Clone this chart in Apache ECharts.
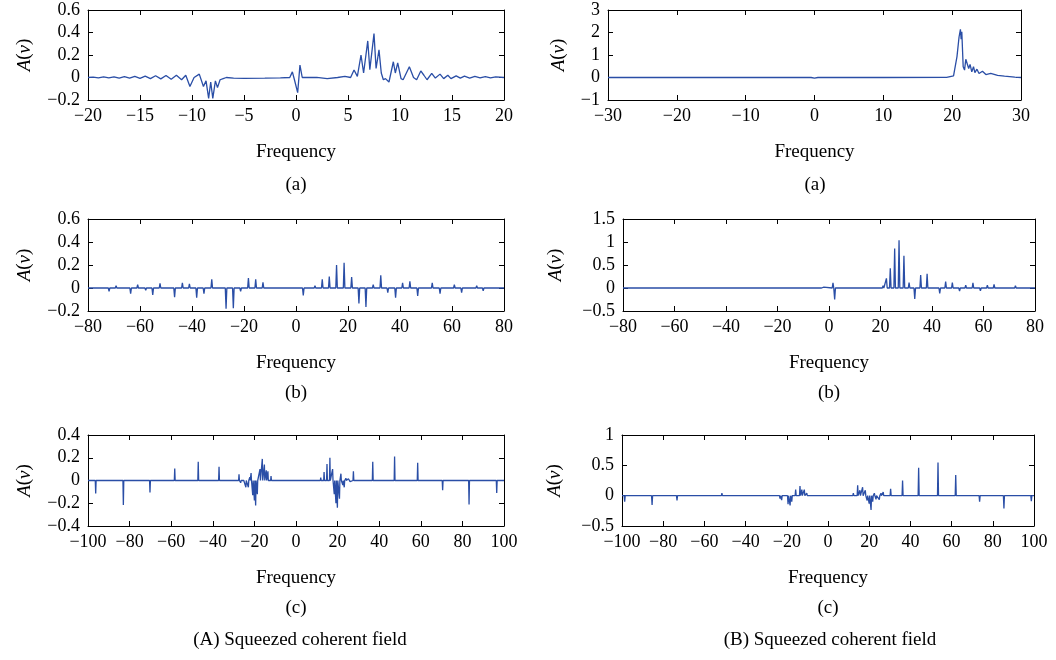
<!DOCTYPE html>
<html>
<head>
<meta charset="utf-8">
<script src="https://cdn.jsdelivr.net/npm/echarts/dist/echarts.min.js"></script>
<style>html,body{margin:0;padding:0;background:#fff}#main{width:1056px;height:660px}</style>
</head>
<body>
<div id="main"></div>
<script>
var myChart = echarts.init(document.getElementById('main'));

// (A)(a) traced points [frequency, A(v)]
var pointsAa = [[-20,0],[-19.5,0.003],[-19,-0.003],[-18.5,0.005],[-18,-0.004],[-17.5,0.006],[-17,-0.005],
  [-16.5,0.008],[-16,-0.006],[-15.5,0.01],[-15,-0.008],[-14.5,0.012],[-14,-0.01],[-13.5,0.016],[-13,-0.012],
  [-12.5,0.018],[-12,-0.016],[-11.5,0.02],[-11,-0.02],[-10.6,0.02],[-10.2,-0.08],[-9.8,0],[-9.3,0.03],
  [-8.9,-0.08],[-8.65,-0.03],[-8.4,-0.185],[-8.2,-0.04],[-8.0,-0.185],[-7.75,-0.03],[-7.55,-0.09],[-7.3,-0.02],
  [-7.0,-0.01],[-6.7,0],[-6.0,-0.005],[-5,-0.007],[-3,-0.005],[-1.5,-0.003],[-0.6,0],[-0.35,0.05],[-0.15,-0.02],
  [0.16,-0.135],[0.38,0.11],[0.6,0],[1,0],[2,0.002],[3,-0.01],[4,0],[4.7,0.01],[5.25,0],[5.58,0.067],[5.9,0.01],
  [6.25,0.2],[6.5,0.04],[6.9,0.325],[7.1,0.07],[7.5,0.39],[7.7,0.08],[7.98,0.245],[8.2,0.04],[8.4,-0.02],
  [8.6,-0.01],[8.94,-0.04],[9.36,0.14],[9.55,0.04],[9.78,0.13],[10.1,-0.01],[10.3,-0.02],[10.9,0.096],[11.3,0],
  [11.6,-0.02],[12.0,0.058],[12.3,0.02],[12.6,-0.02],[13.05,0.037],[13.4,-0.005],[13.85,0.03],[14.2,-0.01],
  [14.6,0.02],[14.9,-0.01],[15.4,0.015],[15.8,-0.005],[16.2,0.012],[16.7,-0.005],[17.2,0.01],[17.7,-0.004],
  [18.2,0.008],[18.7,-0.004],[19.2,0.005],[20,0]];

// (B)(a) traced points
var pointsBa = [[-30,0],[-10,0],[-0.5,0],[0,-0.03],[0.5,0],[10,0],[19.2,0.01],[20.2,0.07],[20.7,0.93],[21.0,1.8],
  [21.2,2.14],[21.3,1.7],[21.4,2.03],[21.6,0.48],[21.8,0.33],[21.98,0.81],[22.15,0.75],[22.4,0.4],[22.6,0.58],
  [22.85,0.25],[23.1,0.48],[23.3,0.22],[23.6,0.37],[23.9,0.18],[24.4,0.28],[24.9,0.13],[25.6,0.18],[26.6,0.09],
  [27.6,0.06],[29.1,0.02],[30,0]];

// spikes [frequency, peak A(v)] on a zero baseline
var spikesAb = [[-71.9,-0.03],[-69.2,0.02],[-63.6,-0.05],[-60.9,0.03],[-57.8,-0.02],[-55.1,-0.06],[-52.3,0.04],
  [-46.7,-0.08],[-43.7,0.045],[-41.0,0.035],[-38.2,-0.085],[-35.4,-0.05],[-32.4,0.075],[-26.9,-0.18],[-24.1,-0.175],
  [-21.3,-0.03],[-18.3,0.087],[-15.5,0.075],[-12.7,0.05],[-10.0,0.01],[-3.1,0.01],[2.8,-0.065],[7.3,0.02],
  [10.1,0.075],[12.8,0.1],[15.6,0.2],[18.5,0.22],[21.4,0.095],[24.2,-0.135],[26.9,-0.165],[29.7,0.03],[32.6,0.11],
  [35.3,-0.04],[38.3,-0.085],[41.0,0.045],[43.8,0.058],[46.8,-0.07],[52.4,0.045],[55.4,-0.05],[60.9,0.03],
  [63.7,-0.04],[69.5,0.02],[72.0,-0.025],[77.8,0.015]];

var spikesBb = [[-62,-0.01],[-55,-0.01],[-43.1,-0.02],[-40.5,-0.01],[-33.4,-0.03],[-31.5,-0.04],[-29,-0.01],
  [-2.6,-0.03],[-2.0,0.02],[1.55,0.11],[2.2,-0.25],[21.0,0.05],[22.3,0.21],[23.8,0.43],[25.5,0.86],[27.2,1.04],
  [29.1,0.7],[31.1,0.12],[33.3,-0.24],[35.6,0.28],[38.1,0.31],[43.0,-0.12],[45.3,0.14],[47.9,0.12],[50.7,-0.07],
  [53.1,0.06],[55.9,0.11],[58.8,-0.06],[61.5,0.06],[64.1,0.08],[67.0,-0.04],[69.5,0.04],[72.4,0.05],[75.0,-0.03],
  [77.6,0.03]];

var spikesAc = [[-96.3,-0.115],[-83.0,-0.215],[-70.2,-0.105],[-58.3,0.105],[-47.0,0.165],[-37.0,0.12],[-27.4,0.055],
  [-26.6,-0.02],[-24.9,0.015],[-24.1,-0.06],[-22.9,-0.06],[-22.2,0.03],[-21.6,0.065],[-20.8,-0.13],[-20.0,-0.175],
  [-19.4,-0.22],[-18.6,-0.12],[-18.1,0.015],[-17.3,0.1],[-16.2,0.19],[-15.2,0.14],[-14.3,0.09],[-13.5,0.08],
  [-12.0,0.04],[-10.1,0.01],[11.9,0.025],[13.5,0.075],[14.9,0.145],[16.3,0.2],[17.6,0.1],[18.4,-0.12],[19.2,-0.2],
  [19.9,-0.24],[20.9,-0.16],[21.6,0.06],[22.5,-0.04],[23.2,-0.06],[24.0,0.02],[25.2,0.015],[26.0,-0.01],
  [27.6,0.08],[29.2,-0.01],[36.9,0.165],[47.4,0.21],[58.5,0.155],[70.5,-0.085],[83.2,-0.21],[96.5,-0.11]];

var spikesBc = [[-98.7,-0.1],[-85.4,-0.155],[-73.3,-0.08],[-61.8,0.02],[-51.5,0.04],[-41.6,0.025],[-23.3,-0.05],
  [-22.5,-0.075],[-20.9,0.03],[-19.4,-0.14],[-18.4,-0.16],[-17.6,-0.1],[-15.7,0.1],[-13.6,0.16],[-12.7,0.1],
  [-11.5,0.1],[-10.3,0.04],[-6.3,0.02],[12.3,0.04],[14.4,0.17],[15.5,0.09],[16.8,0.14],[18.1,0.09],[19.0,-0.08],
  [20.0,-0.13],[20.9,-0.235],[21.7,-0.1],[22.5,0.04],[23.3,-0.06],[24.1,0.03],[24.9,-0.065],[25.7,0.04],
  [26.8,0.06],[28.0,-0.02],[30.4,0.115],[36.2,0.25],[44.0,0.46],[53.4,0.545],[62.0,0.34],[73.6,-0.1],
  [85.4,-0.21],[98.7,-0.09]];

// axis ranges [min, max, interval]
var xRangeAa = [-20, 20, 5], yRangeAa = [-0.2, 0.6, 0.2];
var xRangeBa = [-30, 30, 10], yRangeBa = [-1, 3, 1];
var xRangeAb = [-80, 80, 20], yRangeAb = [-0.2, 0.6, 0.2];
var xRangeBb = [-80, 80, 20], yRangeBb = [-0.5, 1.5, 0.5];
var xRangeAc = [-100, 100, 20], yRangeAc = [-0.4, 0.4, 0.2];
var xRangeBc = [-100, 100, 20], yRangeBc = [-0.5, 1, 0.5];

function spikeLine(spikes, range, hw) {
  var out = [[range[0], 0]];
  spikes.forEach(function (s) {
    out.push([s[0] - hw, 0], [s[0], s[1]], [s[0] + hw, 0]);
  });
  out.push([range[1], 0]);
  return out;
}

var font = 'Liberation Serif';
var blue = '#2a4ea6';

var panels = [
  {box: [88, 10, 416, 90], xr: xRangeAa, yr: yRangeAa, data: pointsAa, gap: 54},
  {box: [608, 10, 413, 90], xr: xRangeBa, yr: yRangeBa, data: pointsBa, gap: 40},
  {box: [88, 219, 416, 92], xr: xRangeAb, yr: yRangeAb, data: spikeLine(spikesAb, xRangeAb, 0.3), gap: 54},
  {box: [623, 219, 412, 92], xr: xRangeBb, yr: yRangeBb, data: spikeLine(spikesBb, xRangeBb, 0.3), gap: 58},
  {box: [88, 435, 416, 91], xr: xRangeAc, yr: yRangeAc, data: spikeLine(spikesAc, xRangeAc, 0.2), gap: 54},
  {box: [622, 435, 412, 91], xr: xRangeBc, yr: yRangeBc, data: spikeLine(spikesBc, xRangeBc, 0.25), gap: 58}
];

function fmt(v) {
  return String(Math.round(v * 10) / 10).replace('-', '\u2212');
}

var grids = [], xAxes = [], yAxes = [], series = [];
var lineStyle = {color: '#000', width: 1};
panels.forEach(function (p, i) {
  grids.push({left: p.box[0], top: p.box[1], width: p.box[2], height: p.box[3]});
  var common = {type: 'value', gridIndex: i, splitLine: {show: false},
    axisLine: {onZero: false, lineStyle: lineStyle},
    axisTick: {inside: true, length: 5, lineStyle: lineStyle}};
  xAxes.push(Object.assign({}, common, {
    position: 'bottom', min: p.xr[0], max: p.xr[1], interval: p.xr[2],
    name: 'Frequency', nameLocation: 'middle', nameGap: 43,
    nameTextStyle: {fontFamily: font, fontSize: 19, color: '#000'},
    axisLabel: {fontFamily: font, fontSize: 18, color: '#000', margin: 7, formatter: fmt}
  }));
  xAxes.push(Object.assign({}, common, {
    position: 'top', min: p.xr[0], max: p.xr[1], interval: p.xr[2], axisLabel: {show: false}
  }));
  yAxes.push(Object.assign({}, common, {
    position: 'left', min: p.yr[0], max: p.yr[1], interval: p.yr[2],
    name: '{i|A}({i|\u03bd})', nameLocation: 'middle', nameGap: p.gap, nameRotate: 90,
    nameTextStyle: {fontFamily: font, fontSize: 19, color: '#000',
      rich: {i: {fontFamily: font, fontSize: 19, fontStyle: 'italic', color: '#000'}}},
    axisLabel: {fontFamily: font, fontSize: 18, color: '#000', margin: 8, formatter: fmt}
  }));
  yAxes.push(Object.assign({}, common, {
    position: 'right', min: p.yr[0], max: p.yr[1], interval: p.yr[2], axisLabel: {show: false}
  }));
  series.push({
    type: 'line', xAxisIndex: i * 2, yAxisIndex: i * 2, data: p.data,
    showSymbol: false, symbol: 'none', animation: false,
    lineStyle: {color: blue, width: 1.3}
  });
});

function caption(text, x, y) {
  return {type: 'text', x: x, y: y, style: {text: text, fontFamily: font, fontSize: 19, fill: '#000',
    align: 'center', verticalAlign: 'middle'}};
}

var option = {
  backgroundColor: '#fff',
  animation: false,
  grid: grids,
  xAxis: xAxes,
  yAxis: yAxes,
  series: series,
  graphic: [
    caption('(a)', 296, 185), caption('(a)', 815, 185),
    caption('(b)', 296, 393), caption('(b)', 829, 393),
    caption('(c)', 296, 608), caption('(c)', 828, 608),
    caption('(A) Squeezed coherent field', 300, 640),
    caption('(B) Squeezed coherent field', 830, 640)
  ]
};
myChart.setOption(option);
</script>
</body>
</html>
